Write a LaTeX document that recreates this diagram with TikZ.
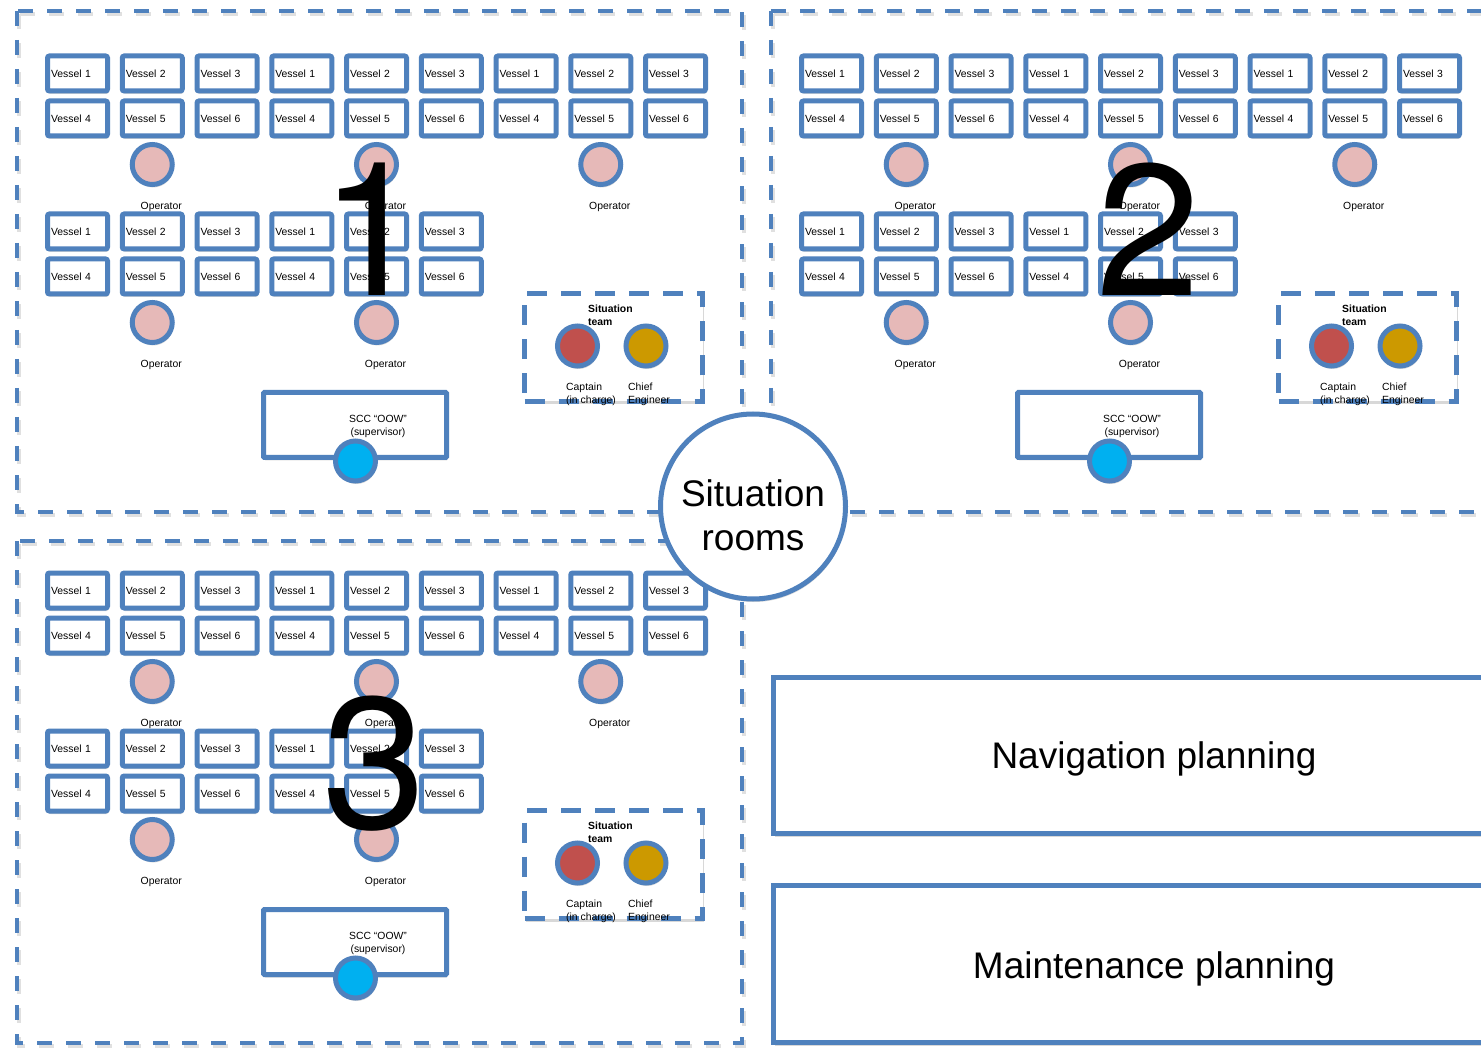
\documentclass[tikz,border=0pt]{standalone}
\usepackage{fontspec}
\setmainfont{Liberation Sans}
\newfontfamily\digitfont{TeX Gyre Heros}
\usetikzlibrary{shadows}
\definecolor{ublue}{RGB}{79,129,189}
\definecolor{opfill}{RGB}{230,185,184}
\definecolor{capfill}{RGB}{192,80,77}
\definecolor{chieffill}{RGB}{204,153,0}
\definecolor{sccfill}{RGB}{0,176,240}
\tikzset{
  soft/.style={drop shadow={shadow xshift=1pt,shadow yshift=-3pt,opacity=0.25,fill=black!60}},
  small text/.style={font=\fontsize{10.4}{13}\selectfont},
  vessel/.style={draw=ublue,line width=5pt,fill=white,rounded corners=2pt,
    minimum width=60pt,minimum height=35pt,inner sep=0pt,text width=53pt,
    align=left,small text,soft},
  person/.style={circle,draw=ublue,line width=5pt,minimum size=40pt,inner sep=0pt,soft},
  lbl/.style={inner sep=0pt,align=left,small text},
  teambox/.style={draw=ublue,line width=5pt,dash pattern=on 20pt off 14pt,fill=white,
    minimum width=178pt,minimum height=108pt,inner sep=0pt,soft},
  sccbox/.style={draw=ublue,line width=5pt,fill=white,rounded corners=1pt,
    minimum width=183pt,minimum height=65pt,inner sep=0pt,soft},
  roomline/.style={draw=ublue,line width=4pt,dash pattern=on 15pt off 14pt},
  roomshade/.style={draw=black,opacity=0.12,line width=4pt,dash pattern=on 15pt off 14pt},
  planbox/.style={draw=ublue,line width=5pt,fill=white,minimum width=761pt,inner sep=0pt,soft},
  bigtext/.style={inner sep=0pt,font=\fontsize{37}{44}\selectfont,align=center},
  roomno/.style={inner sep=0pt,anchor=base,font=\digitfont\fontsize{187}{187}\selectfont},
  % one control room: two vessel consoles, operators, situation team, supervisor
  room/.pic={
    \foreach \i in {0,...,8}{
      \pgfmathtruncatemacro{\ta}{mod(\i,3)+1}
      \pgfmathtruncatemacro{\tb}{mod(\i,3)+4}
      \node[vessel] (-a\i) at ({77.5+74.75*\i},73.5) {Vessel \ta};
      \node[vessel] (-b\i) at ({77.5+74.75*\i},118.5) {Vessel \tb};
    }
    \foreach \i in {0,...,5}{
      \pgfmathtruncatemacro{\ta}{mod(\i,3)+1}
      \pgfmathtruncatemacro{\tb}{mod(\i,3)+4}
      \node[vessel] (-c\i) at ({77.5+74.75*\i},231.5) {Vessel \ta};
      \node[vessel] (-d\i) at ({77.5+74.75*\i},276.5) {Vessel \tb};
    }
    \foreach \i in {1,4,7}{
      \node[person,fill=opfill] (-op\i) at ({77.5+74.75*\i},164.5) {};
      \node[lbl] (-opl\i) at ({86.5+74.75*\i},207) {Operator};
    }
    \foreach \i in {1,4}{
      \node[person,fill=opfill] (-lo\i) at ({77.5+74.75*\i},322.5) {};
      \node[lbl] (-lol\i) at ({86.5+74.75*\i},365) {Operator};
    }
    \node[teambox] (-team) at (613.5,347.5) {};
    \node[lbl,anchor=west,font=\bfseries\fontsize{10.4}{13}\selectfont] (-teaml)
      at (588,315) {Situation\\team};
    \node[person,fill=capfill] (-cap) at (577.5,346) {};
    \node[person,fill=chieffill] (-chief) at (646,346) {};
    \node[lbl,anchor=west] (-capl) at (566,394) {Captain\\(in charge)};
    \node[lbl,anchor=west] (-chiefl) at (628,394) {Chief\\Engineer};
    \node[sccbox] (-scc) at (355,425) {};
    \node[lbl,align=center] (-sccl) at (378,426) {SCC “OOW”\\(supervisor)};
    \node[person,fill=sccfill] (-oow) at (355.5,461) {};
  }
}
\begin{document}
\begin{tikzpicture}[x=1pt,y=-1pt]
\useasboundingbox (0,0) rectangle (1481,1048);
\clip (0,0) rectangle (1481,1048);
\fill[white] (0,0) rectangle (1481,1048);

% room outlines
\draw[roomshade] (18.5,14) rectangle (743.5,515);
\draw[roomshade] (772.5,14) rectangle (1512,515);
\draw[roomshade] (18.5,544) rectangle (743.5,1046);
\draw[roomline] (17,11) rectangle (742,512);
\draw[roomline] (771,11) rectangle (1510,512);
\draw[roomline] (17,541) rectangle (742,1043);

% room contents
\pic (r1) at (0,0) {room};
\pic (r2) at (754,0) {room};
\pic (r3) at (0,517) {room};

% room numbers
\node[roomno] (n1) at (372,296) {1};
\node[roomno] (n2) at (1148,296) {2};
\node[roomno] (n3) at (374,828) {3};

% planning functions
\node[planbox,minimum height=156pt] (nav) at (1154.25,755.5) {};
\node[bigtext,anchor=base] (navt) at (1154,768) {Navigation planning};
\node[planbox,minimum height=157pt] (maint) at (1154.25,964) {};
\node[bigtext,anchor=base] (maintt) at (1154,978) {Maintenance planning};

% hub
\node[circle,draw=ublue,line width=5pt,fill=white,minimum size=185pt,inner sep=0pt,soft]
  (hub) at (753,506.5) {};
\node[bigtext] (hubt) at (753,515) {Situation\\rooms};
\end{tikzpicture}
\end{document}
